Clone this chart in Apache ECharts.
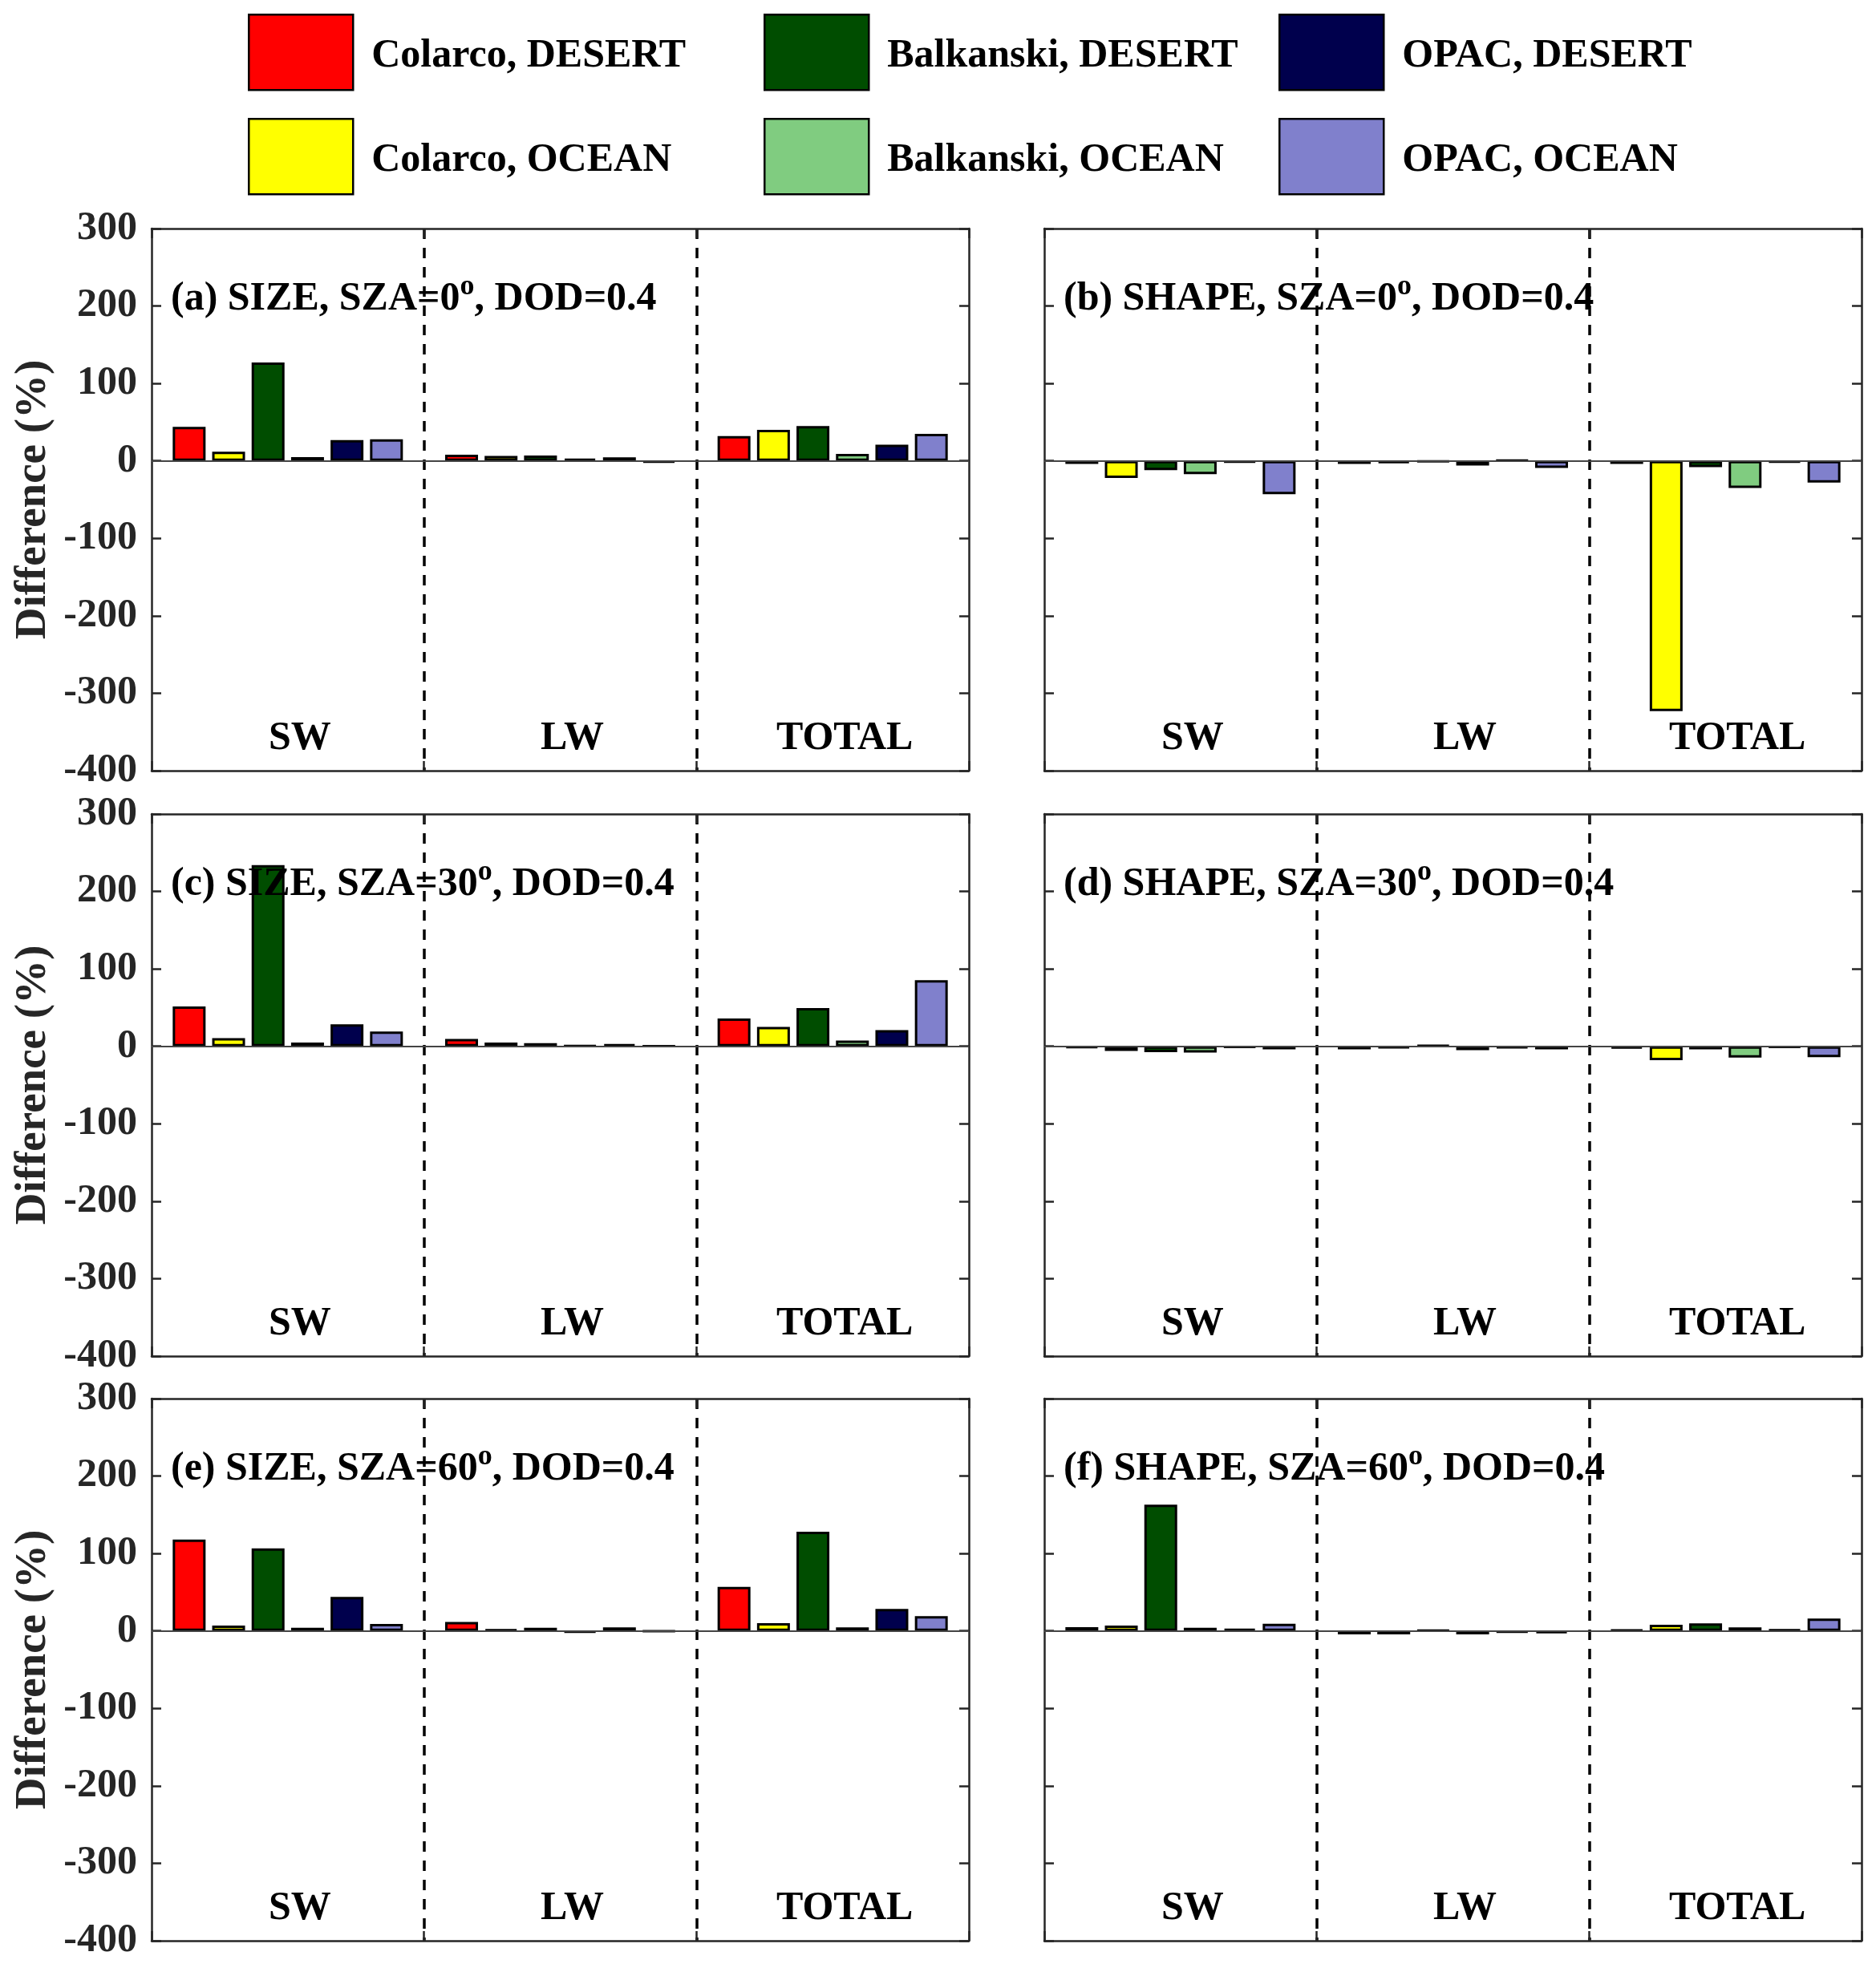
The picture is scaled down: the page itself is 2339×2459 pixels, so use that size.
<!DOCTYPE html>
<html><head><meta charset="utf-8">
<script src="https://cdn.jsdelivr.net/npm/echarts@6/dist/echarts.min.js"></script>
<style>html,body{margin:0;padding:0;background:#fff}#c{width:2339px;height:2459px}</style>
</head><body><div id="c"></div>
<script>
const categories = ['SW', 'LW', 'TOTAL'];
const seriesNames = ['Colarco, DESERT', 'Colarco, OCEAN', 'Balkanski, DESERT', 'Balkanski, OCEAN', 'OPAC, DESERT', 'OPAC, OCEAN'];
const seriesColors = ['#FF0000', '#FFFF00', '#004D00', '#80CC80', '#00004D', '#8080CC'];
const yMin = -400, yMax = 300, yStep = 100;

// each row follows seriesNames; columns follow categories (SW, LW, TOTAL)
const panelA = [[44, 8, 32], [12, 6.5, 40], [127, 7, 45], [5, 3, 9], [27, 4.5, 21], [28, -2, 35]];
const panelB = [[-4, -4, -4], [-22, -3, -323], [-12, -1, -8], [-17, -6, -35], [-2, 1, -2], [-43, -9, -28]];
const panelC = [[51.5, 9.5, 36], [10.5, 5, 25], [234, 4, 49.5], [5, 1, 7.5], [28.5, 3, 21], [19, 0.3, 85.5]];
const panelD = [[-2, -4, -3], [-6, -2.5, -18], [-7.5, 1.5, -4], [-8, -5, -14.5], [-1.5, -2.5, -1.5], [-4, -4, -14]];
const panelE = [[118, 11.5, 57], [7, 2, 10], [106.5, 4, 128], [4, -2, 4.5], [44, 4.5, 28.5], [9, -0.5, 19]];
const panelF = [[5, -4.5, 1.5], [7, -4.5, 8], [163, 1, 9.7], [4, -4.5, 4.5], [3, -2, 2], [9.3, -3, 16]];

const panelLetters = ['a', 'b', 'c', 'd', 'e', 'f'];
const panelKinds = ['SIZE', 'SHAPE', 'SIZE', 'SHAPE', 'SIZE', 'SHAPE'];
const panelSZA = ['0', '0', '30', '30', '60', '60'];
const panelDOD = '0.4';
const panels = [panelA, panelB, panelC, panelD, panelE, panelF];

const FF = "'Liberation Serif','Times New Roman',serif";
const FRAME = '#262626';
const colLeft = [189, 1302];
const rowTop = [285, 1015, 1744];
const GW = 1019, GH = 676;

const grid = [], xAxis = [], yAxis = [], series = [], title = [], legend = [];

panels.forEach((vals, p) => {
  const row = Math.floor(p / 2), col = p % 2;
  const left = colLeft[col], top = rowTop[row];
  grid.push({left: left, top: top, width: GW, height: GH, containLabel: false});
  xAxis.push({
    type: 'category', gridIndex: p, data: categories, position: 'bottom',
    axisLine: {show: true, onZero: false, lineStyle: {color: FRAME, width: 2.5}},
    axisTick: {show: true, inside: true, length: 12, interval: 0, lineStyle: {color: FRAME, width: 2.5}},
    axisLabel: {show: true, inside: true, interval: 0, margin: 15, color: '#000',
      fontFamily: FF, fontWeight: 'bold', fontSize: 50, padding: [0, 0, 0, 30]},
    splitLine: {show: true, interval: 0, showMinLine: false, showMaxLine: false,
      lineStyle: {color: '#000', width: 3.5, type: [13, 11]}}
  });
  xAxis.push({
    type: 'category', gridIndex: p, data: categories, position: 'top',
    axisLine: {show: true, onZero: false, lineStyle: {color: FRAME, width: 2.5}},
    axisTick: {show: true, inside: true, length: 12, interval: 0, lineStyle: {color: FRAME, width: 2.5}},
    axisLabel: {show: false}, splitLine: {show: false}
  });
  yAxis.push({
    type: 'value', gridIndex: p, min: yMin, max: yMax, interval: yStep, position: 'left',
    axisLine: {show: true, onZero: false, lineStyle: {color: FRAME, width: 2.5}},
    axisTick: {show: true, inside: true, length: 12, lineStyle: {color: FRAME, width: 2.5}},
    axisLabel: {show: col === 0, margin: 18, color: FRAME, fontFamily: FF, fontWeight: 'bold', fontSize: 50},
    splitLine: {show: false},
    name: col === 0 ? 'Difference (%)' : '', nameLocation: 'middle', nameGap: 120, nameRotate: 90,
    nameTextStyle: {fontFamily: FF, fontWeight: 'bold', fontSize: 55, color: FRAME}
  });
  yAxis.push({
    type: 'value', gridIndex: p, min: yMin, max: yMax, interval: yStep, position: 'right',
    axisLine: {show: true, onZero: false, lineStyle: {color: FRAME, width: 2.5}},
    axisTick: {show: true, inside: true, length: 12, lineStyle: {color: FRAME, width: 2.5}},
    axisLabel: {show: false}, splitLine: {show: false}
  });
  seriesNames.forEach((nm, s) => {
    const ser = {
      type: 'bar', name: nm, xAxisIndex: 2 * p, yAxisIndex: 2 * p, data: vals[s],
      barWidth: 41, barGap: '20%',
      itemStyle: {color: seriesColors[s], borderColor: '#000', borderWidth: 3},
      emphasis: {disabled: true}, animation: false
    };
    if (s === 0) {
      ser.markLine = {silent: true, symbol: 'none', label: {show: false}, animation: false,
        lineStyle: {color: '#444', width: 2, type: 'solid'}, data: [{yAxis: 0}]};
    }
    series.push(ser);
  });
  title.push({
    left: left + 24, top: top + 55, padding: 0,
    text: '{m|(' + panelLetters[p] + ') ' + panelKinds[p] + ', SZA=' + panelSZA[p] + '}{s|o}{m|, DOD=' + panelDOD + '}',
    textStyle: {
      rich: {
        m: {fontFamily: FF, fontWeight: 'bold', fontSize: 50, color: '#000', lineHeight: 56, padding: [10, 0, 0, 0]},
        s: {fontFamily: FF, fontWeight: 'bold', fontSize: 36, color: '#000', lineHeight: 36, verticalAlign: 'top'}
      }
    }
  });
});

const legendLeft = [309, 952, 1594];
const legendTop = [17, 147];
seriesNames.forEach((nm, s) => {
  const row = s % 2, col = Math.floor(s / 2);
  legend.push({
    data: [nm], left: legendLeft[col], top: legendTop[row], padding: 0,
    icon: 'rect', itemWidth: 130, itemHeight: 94, selectedMode: false,
    itemStyle: {borderColor: '#000', borderWidth: 2.5},
    formatter: '{t|{name}}',
    textStyle: {fontFamily: FF, fontWeight: 'bold', fontSize: 50, color: '#000',
      rich: {t: {fontFamily: FF, fontWeight: 'bold', fontSize: 50, color: '#000', padding: [10, 0, 0, 18]}}}
  });
});

const chart = echarts.init(document.getElementById('c'), null, {renderer: 'canvas'});
chart.setOption({backgroundColor: '#fff', animation: false, grid, xAxis, yAxis, series, title, legend});
</script></body></html>
